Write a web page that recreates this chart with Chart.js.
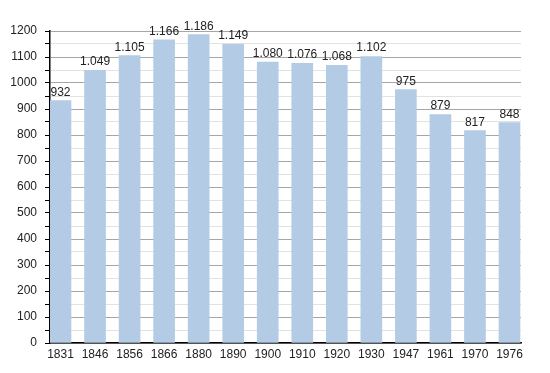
<!DOCTYPE html>
<html>
<head>
<meta charset="utf-8">
<script src="https://cdn.jsdelivr.net/npm/chart.js@4.4.1/dist/chart.umd.min.js"></script>
<style>
  html, body { margin: 0; padding: 0; background: #fff; }
  #wrap { width: 550px; height: 373px; }
</style>
</head>
<body>
<div id="wrap"><canvas id="chart"></canvas></div>
<script>
const years = ['1831', '1846', '1856', '1866', '1880', '1890', '1900', '1910', '1920', '1930', '1947', '1961', '1970', '1976'];
const population = [932, 1049, 1105, 1166, 1186, 1149, 1080, 1076, 1068, 1102, 975, 879, 817, 848];

const fontFamily = '"Liberation Sans Narrow", "Liberation Sans", Arial, sans-serif';

// 1.049 style thousands separator
function formatValue(v) {
  const s = String(v);
  return s.length > 3 ? s.slice(0, s.length - 3) + '.' + s.slice(-3) : s;
}

const valueLabels = {
  id: 'valueLabels',
  afterDatasetsDraw(chart) {
    const c = chart.ctx;
    const meta = chart.getDatasetMeta(0);
    c.save();
    c.font = '12px ' + fontFamily;
    c.fillStyle = '#222';
    c.textAlign = 'center';
    c.textBaseline = 'alphabetic';
    meta.data.forEach((bar, i) => {
      c.fillText(formatValue(population[i]), bar.x, bar.y - 5);
    });
    c.restore();
  }
};

const ctx = document.getElementById('chart').getContext('2d');
const chart = new Chart(ctx, {
  type: 'bar',
  data: {
    datasets: [{
      data: population.map((v, i) => ({ x: i, y: v })),
      backgroundColor: '#b3cbe5',
      borderWidth: 0,
      barThickness: 21,
    }],
  },
  options: {
    responsive: true,
    maintainAspectRatio: false,
    animation: false,
    layout: { padding: { left: 0, right: 29, top: 31, bottom: 0 } },
    plugins: {
      legend: { display: false },
      tooltip: { enabled: false },
    },
    scales: {
      x: {
        type: 'linear',
        offset: false,
        min: -0.304,
        max: 13.333,
        afterFit: (scale) => { scale.height = 30; },
        grid: { display: false, drawTicks: false, offset: false },
        border: { display: true, color: '#000', width: 1.5 },
        ticks: {
          stepSize: 1,
          includeBounds: false,
          autoSkip: false,
          maxRotation: 0,
          padding: 4,
          color: '#222',
          font: { family: fontFamily, size: 12 },
          callback: (v) => (Number.isInteger(v) ? years[v] : ''),
        },
      },
      y: {
        min: 0,
        max: 1200,
        afterFit: (scale) => { scale.width = 50; },
        border: { display: true, color: '#000', width: 1.5 },
        grid: {
          color: (c) => (c.tick.value % 100 === 0 ? '#a6a6a6' : '#e2e2e2'),
          tickColor: '#000',
          tickLength: 5,
          lineWidth: 1,
        },
        ticks: {
          stepSize: 50,
          autoSkip: false,
          padding: 8,
          color: '#222',
          font: { family: fontFamily, size: 12 },
          callback: (v) => (v % 100 === 0 ? String(v) : ''),
        },
      },
    },
  },
  plugins: [valueLabels],
});
</script>
</body>
</html>
